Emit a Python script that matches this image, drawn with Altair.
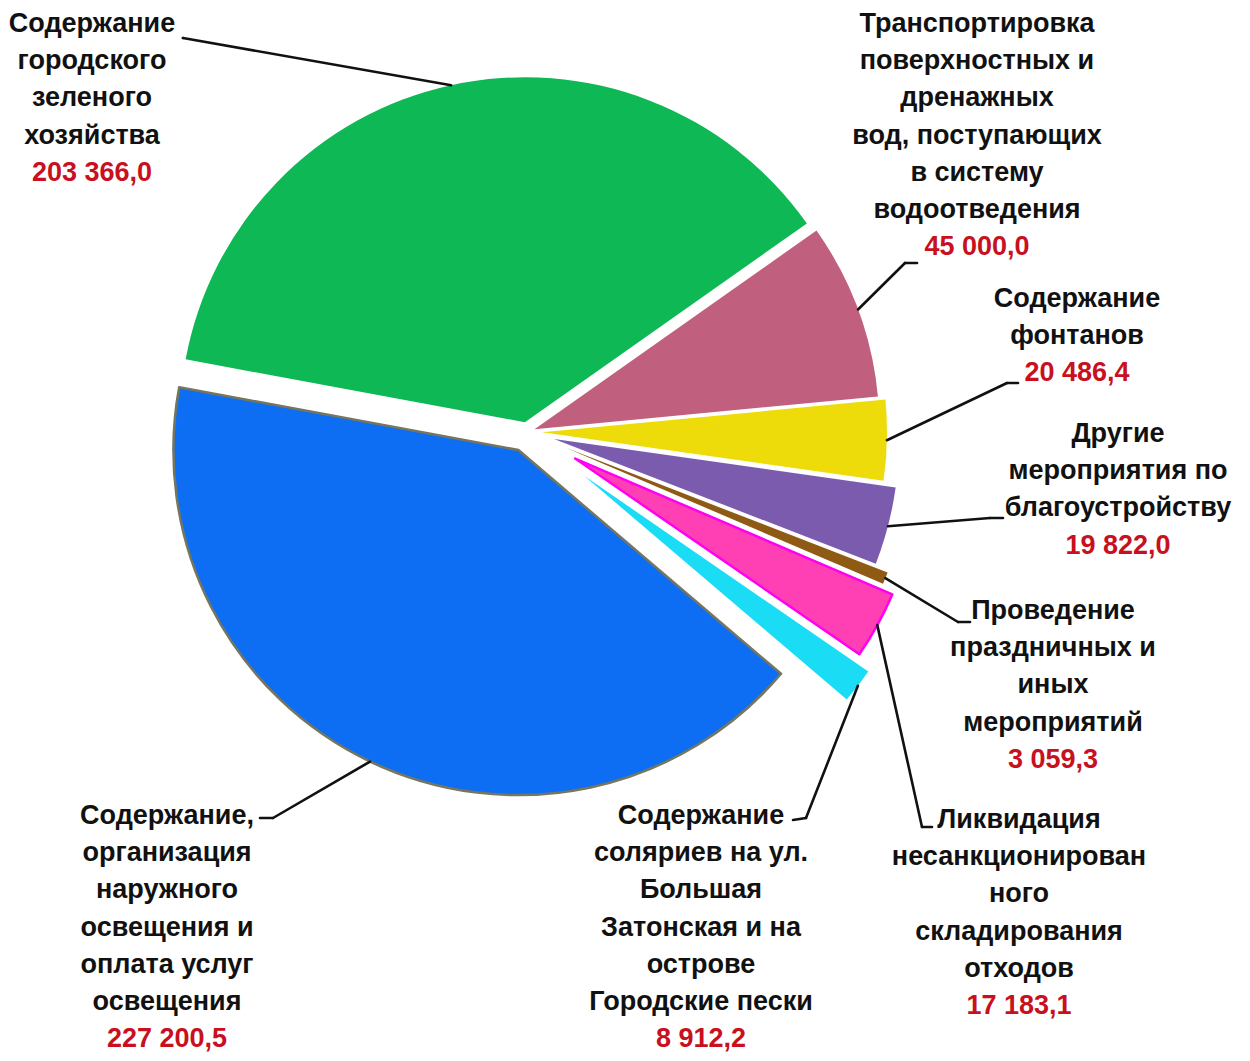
import math
import altair as alt
import pandas as pd

# ---------------- data ----------------
categories = [
    "Содержание городского зеленого хозяйства",
    "Транспортировка поверхностных и дренажных вод, поступающих в систему водоотведения",
    "Содержание фонтанов",
    "Другие мероприятия по благоустройству",
    "Проведение праздничных и иных мероприятий",
    "Ликвидация несанкционированного складирования отходов",
    "Содержание соляриев на ул. Большая Затонская и на острове Городские пески",
    "Содержание, организация наружного освещения и оплата услуг освещения",
]
values = [203366.0, 45000.0, 20486.4, 19822.0, 3059.3, 17183.1, 8912.2, 227200.5]

label_lines = [
    "Содержание\nгородского\nзеленого\nхозяйства",
    "Транспортировка\nповерхностных и\nдренажных\nвод, поступающих\nв систему\nводоотведения",
    "Содержание\nфонтанов",
    "Другие\nмероприятия по\nблагоустройству",
    "Проведение\nпраздничных и\nиных\nмероприятий",
    "Ликвидация\nнесанкционирован\nного\nскладирования\nотходов",
    "Содержание\nсоляриев на ул.\nБольшая\nЗатонская и на\nострове\nГородские пески",
    "Содержание,\nорганизация\nнаружного\nосвещения и\nоплата услуг\nосвещения",
]

# ---------------- styles ----------------
fill_colors = ["#0DB855", "#C0607E", "#EEDC0A", "#7A5BAE", "#8E5A14", "#FF40B4", "#1ADCF4", "#0D6EF3"]
stroke_colors = ["transparent", "transparent", "transparent", "transparent", "transparent",
                 "#FF00F0", "transparent", "#76765E"]
explode = [10, 8, 15, 28, 42, 55, 72, 20]

# ---------------- layout (page pixel coords) ----------------
OFF = 8
CX, CY, R = 527, 432, 345
START = 280.5 * math.pi / 180
LH = 37.2
label_x = [92, 977, 1077, 1118, 1053, 1019, 701, 167]
label_y = [32, 32, 307, 442, 619, 828, 824, 824]
elbow_x = [183, 905, 1007, 990, 958, 922, 806, 273]
elbow_y = [38, 263, 383, 518, 622, 827, 818, 818]
stub_x = [183, 917, 1018, 1003, 970, 932, 793, 260]
stub_y = [38, 263, 383, 518, 622, 827, 820, 818]


def fmt(v):
    return format(v, ",.1f").replace(",", " ").replace(".", ",")


df = pd.DataFrame({
    "name": categories,
    "value": values,
    "order": list(range(len(values))),
    "label": label_lines,
    "nlines": [s.count("\n") + 1 for s in label_lines],
    "vlabel": [fmt(v) for v in values],
    "explode": explode,
    "lx": [v - OFF for v in label_x],
    "ly": [v - OFF for v in label_y],
    "ex": [v - OFF for v in elbow_x],
    "ey": [v - OFF for v in elbow_y],
    "sx": [v - OFF for v in stub_x],
    "sy": [v - OFF for v in stub_y],
})

font = "Liberation Sans"
FS = 27

arcs = alt.Chart().mark_arc(strokeWidth=2.5, strokeJoin="round").encode(
    x=alt.X("cx:Q", scale=None),
    y=alt.Y("cy:Q", scale=None),
    theta=alt.Theta("t0:Q", scale=None),
    theta2="t1:Q",
    radius=alt.value(R),
    color=alt.Color("name:N", scale=alt.Scale(domain=categories, range=fill_colors), legend=None),
    stroke=alt.Stroke("name:N", scale=alt.Scale(domain=categories, range=stroke_colors), legend=None),
)

lead1 = alt.Chart().mark_rule(color="#111111", strokeWidth=2.6, strokeCap="round").encode(
    x=alt.X("ax:Q", scale=None), y=alt.Y("ay:Q", scale=None), x2="ex:Q", y2="ey:Q"
)
lead2 = alt.Chart().mark_rule(color="#111111", strokeWidth=2.6, strokeCap="round").encode(
    x=alt.X("ex:Q", scale=None), y=alt.Y("ey:Q", scale=None), x2="sx:Q", y2="sy:Q"
)

names_text = alt.Chart().mark_text(
    font=font, fontSize=FS, fontWeight="bold", color="#111111",
    align="center", baseline="alphabetic", lineBreak="\n", lineHeight=LH,
).encode(
    x=alt.X("lx:Q", scale=None), y=alt.Y("ly:Q", scale=None), text="label:N"
)

value_text = alt.Chart().mark_text(
    font=font, fontSize=FS, fontWeight="bold", color="#C8101E",
    align="center", baseline="alphabetic",
).encode(
    x=alt.X("lx:Q", scale=None), y=alt.Y("vy:Q", scale=None), text="vlabel:N"
)

chart = alt.layer(arcs, lead1, lead2, names_text, value_text, data=df).transform_window(
    cum="sum(value)", sort=[alt.SortField("order")], frame=[None, 0]
).transform_joinaggregate(
    total="sum(value)"
).transform_calculate(
    t0=f"{START} + 2*PI*(datum.cum - datum.value)/datum.total",
    t1=f"{START} + 2*PI*datum.cum/datum.total",
).transform_calculate(
    m="(datum.t0 + datum.t1)/2",
).transform_calculate(
    cx=f"{CX - OFF} + datum.explode*sin(datum.m)",
    cy=f"{CY - OFF} - datum.explode*cos(datum.m)",
).transform_calculate(
    ax=f"datum.cx + {R}*sin(datum.m)",
    ay=f"datum.cy - {R}*cos(datum.m)",
    vy=f"datum.ly + datum.nlines*{LH}",
).properties(
    width=1234, height=1045, padding=0,
    autosize=alt.AutoSizeParams(type="none"),
).configure_view(strokeWidth=0)

chart.save("out.html", embed_options={"renderer": "svg", "actions": False})
